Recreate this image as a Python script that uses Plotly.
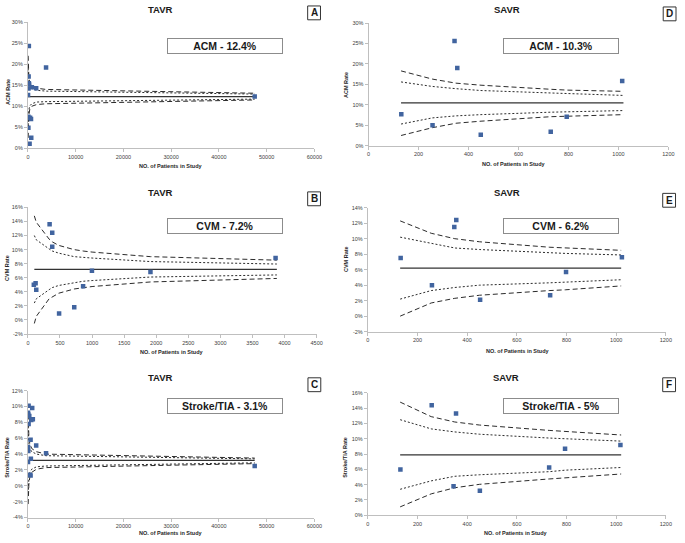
import plotly.graph_objects as go

# ---------------- DATA ----------------
# Panel A: TAVR all-cause mortality
A_N = [200, 3800, 150, 200, 250, 120, 830, 1730, 30, 100, 450, 650, 100, 700, 350, 47500]
A_RATE = [24.3, 19.2, 17.1, 15.5, 15.2, 14.2, 14.5, 14.3, 12.7, 7.5, 7.3, 7.0, 4.9, 2.5, 1.1, 12.3]
A_CURVE_N = [50, 100, 200, 400, 800, 1800, 3800, 47500]
A_UP3 = [22.0, 19.0, 16.8, 15.5, 14.8, 14.3, 14.0, 13.1]
A_UP2 = [19.0, 17.0, 15.5, 14.7, 14.2, 13.8, 13.6, 12.9]
A_LO2 = [5.5, 7.5, 9.2, 10.1, 10.6, 11.0, 11.1, 11.7]
A_LO3 = [2.5, 5.5, 8.0, 9.3, 10.0, 10.4, 10.6, 11.5]
A_CENTER = 12.3
A_LINE_N = [0, 47500]

# Panel B: TAVR cardiovascular mortality
B_N = [92, 120, 130, 338, 379, 379, 486, 722, 860, 998, 1910, 3860]
B_RATE = [5.0, 5.2, 4.3, 13.6, 12.4, 10.4, 0.9, 1.8, 4.8, 7.0, 6.8, 8.8]
B_CURVE_N = [100, 130, 330, 380, 480, 720, 860, 1000, 1910, 3880]
B_UP3 = [14.8, 13.9, 11.5, 11.1, 10.6, 10.0, 9.8, 9.65, 9.0, 8.5]
B_UP2 = [12.0, 11.4, 10.1, 9.8, 9.5, 9.0, 8.9, 8.8, 8.3, 7.95]
B_LO2 = [2.4, 3.0, 4.3, 4.6, 4.9, 5.3, 5.5, 5.6, 6.1, 6.4]
B_LO3 = [-0.5, 0.5, 3.0, 3.3, 3.8, 4.4, 4.6, 4.75, 5.4, 5.9]
B_CENTER = 7.2
B_LINE_N = [100, 3880]

# Panel C: TAVR stroke/TIA
C_N = [144, 900, 30, 80, 290, 1030, 700, 144, 560, 1730, 30, 80, 3800, 620, 20, 560, 400, 47500]
C_RATE = [10.1, 9.8, 9.2, 9.0, 8.8, 8.4, 8.3, 7.8, 5.8, 5.1, 4.9, 4.4, 4.1, 3.4, 3.0, 1.3, 1.4, 2.5]
C_CURVE_N = [50, 100, 200, 400, 800, 1800, 3800, 47500]
C_UP3 = [9.0, 7.8, 6.3, 5.3, 4.7, 4.3, 4.0, 3.5]
C_UP2 = [7.5, 6.5, 5.4, 4.7, 4.3, 4.0, 3.8, 3.4]
C_LO2 = [-1.0, 0.0, 1.0, 1.7, 2.1, 2.4, 2.5, 2.9]
C_LO3 = [-2.3, -1.4, 0.2, 1.1, 1.7, 2.1, 2.3, 2.8]
C_CENTER = 3.2
C_LINE_N = [0, 47500]

# SAVR panels share study sizes for the curves
S_CURVE_N = [130, 255, 350, 450, 730, 795, 1020]
S_LINE_N = [130, 1020]

# Panel D: SAVR all-cause mortality
D_N = [131, 256, 344, 355, 449, 729, 793, 1015]
D_RATE = [7.7, 5.0, 25.6, 19.0, 2.7, 3.4, 7.1, 15.8]
D_UP3 = [18.3, 16.3, 15.3, 14.8, 13.8, 13.6, 13.3]
D_UP2 = [15.6, 14.5, 13.95, 13.5, 12.9, 12.8, 12.3]
D_LO2 = [5.3, 6.8, 7.3, 7.6, 8.2, 8.3, 8.6]
D_LO3 = [2.5, 4.4, 5.5, 6.0, 7.1, 7.2, 7.6]
D_CENTER = 10.5

# Panel E: SAVR cardiovascular mortality
E_N = [132, 258, 348, 356, 452, 734, 798, 1023]
E_RATE = [7.5, 4.0, 11.5, 12.4, 2.1, 2.7, 5.7, 7.6]
E_UP3 = [12.3, 10.7, 10.0, 9.6, 8.9, 8.8, 8.5]
E_UP2 = [10.2, 9.4, 8.8, 8.6, 8.2, 8.1, 7.9]
E_LO2 = [2.2, 3.3, 3.7, 4.0, 4.3, 4.4, 4.7]
E_LO3 = [0.0, 1.7, 2.3, 2.7, 3.3, 3.4, 3.9]
E_CENTER = 6.2

# Panel F: SAVR stroke/TIA
F_N = [131, 257, 345, 355, 451, 730, 794, 1017]
F_RATE = [6.0, 14.4, 3.8, 13.3, 3.2, 6.25, 8.7, 9.2]
F_UP3 = [14.8, 12.9, 12.2, 11.8, 11.1, 10.95, 10.5]
F_UP2 = [12.5, 11.3, 10.9, 10.6, 10.1, 10.0, 9.7]
F_LO2 = [3.4, 4.5, 5.1, 5.3, 5.7, 5.9, 6.25]
F_LO3 = [1.1, 2.8, 3.6, 4.05, 4.75, 4.9, 5.4]
F_CENTER = 7.9

TITLES = ["TAVR", "TAVR", "TAVR", "SAVR", "SAVR", "SAVR"]
LETTERS = ["A", "B", "C", "D", "E", "F"]
BOX_TEXT = ["ACM - 12.4%", "CVM - 7.2%", "Stroke/TIA - 3.1%",
            "ACM - 10.3%", "CVM - 6.2%", "Stroke/TIA - 5%"]
Y_TITLES = ["ACM Rate", "CVM Rate", "Stroke/TIA Rate",
            "ACM Rate", "CVM Rate", "Stroke/TIA Rate"]
X_TITLE = "NO. of Patients in Study"

Y_RANGES = [(0, 30, 5), (-2, 16, 2), (-4, 12, 2), (0, 30, 5), (-2, 14, 2), (0, 16, 2)]
X_RANGES = [(0, 60000, 10000), (0, 4500, 500), (0, 60000, 10000),
            (0, 1200, 200), (0, 1200, 200), (0, 1200, 200)]

# ---------------- LAYOUT (pixels) ----------------
W, H = 685, 543
# plot area boxes: (x0, x1, ytop, ybottom) in pixels
BOXES = [
    (26.3, 317.0, 19.3, 147.0),
    (26.3, 319.3, 206.7, 334.7),
    (26.3, 317.0, 392.0, 520.3),
    (372.0, 676.3, 20.3, 144.3),
    (371.3, 673.7, 207.0, 332.3),
    (371.3, 673.7, 394.3, 518.0),
]
TITLE_POS = [(161, 7), (161, 192), (161, 379), (512, 7), (512, 192), (511, 379)]
XT_POS = [(171, 165), (173, 352.5), (171, 536), (520, 163), (524, 351.5), (522, 535.5)]
YT_POS = [(6, 90), (5, 268), (5, 459), (349, 83), (349, 259), (348, 459)]
TB_POS = [(226.3, 43), (226.7, 225.5), (226.3, 407), (567, 43.3), (567.2, 225.5), (567, 407)]
LB_POS = [(316.7, 10), (316.7, 198), (317, 386), (677.5, 11), (677, 199.5), (677, 386)]

panels = [
    (A_N, A_RATE, A_CURVE_N, A_UP3, A_UP2, A_LO2, A_LO3, A_CENTER, A_LINE_N),
    (B_N, B_RATE, B_CURVE_N, B_UP3, B_UP2, B_LO2, B_LO3, B_CENTER, B_LINE_N),
    (C_N, C_RATE, C_CURVE_N, C_UP3, C_UP2, C_LO2, C_LO3, C_CENTER, C_LINE_N),
    (D_N, D_RATE, S_CURVE_N, D_UP3, D_UP2, D_LO2, D_LO3, D_CENTER, S_LINE_N),
    (E_N, E_RATE, S_CURVE_N, E_UP3, E_UP2, E_LO2, E_LO3, E_CENTER, S_LINE_N),
    (F_N, F_RATE, S_CURVE_N, F_UP3, F_UP2, F_LO2, F_LO3, F_CENTER, S_LINE_N),
]

FONT = "Liberation Sans, Arial, sans-serif"
LINE_COL = "#2b2b2b"
MARK_COL = "#41649f"
AXIS_COL = "#bfbfbf"

fig = go.Figure()
layout = dict(
    width=W, height=H, margin=dict(l=0, r=0, t=0, b=0),
    paper_bgcolor="white", plot_bgcolor="white", showlegend=False,
    font=dict(family=FONT, color="#404040"),
)
annotations = []
shapes = []


def px(x, y):
    return x / W, 1 - y / H


for i, (pn, pr, cn, up3, up2, lo2, lo3, center, line_n) in enumerate(panels):
    k = "" if i == 0 else str(i + 1)
    xa, ya = "x" + k, "y" + k
    x0, x1, yt, yb = BOXES[i]
    xr, yr = X_RANGES[i], Y_RANGES[i]

    dash3 = "5px,3px"
    dash2 = "2px,2px"
    for vals, dash in ((up3, dash3), (up2, dash2), (lo2, dash2), (lo3, dash3)):
        fig.add_trace(go.Scatter(x=cn, y=vals, mode="lines", xaxis=xa, yaxis=ya,
                                 line=dict(color=LINE_COL, width=1, dash=dash),
                                 hoverinfo="skip"))
    fig.add_trace(go.Scatter(x=line_n, y=[center] * len(line_n), mode="lines",
                             xaxis=xa, yaxis=ya,
                             line=dict(color="#333333", width=1.3)))
    fig.add_trace(go.Scatter(x=pn, y=pr, mode="markers", xaxis=xa, yaxis=ya,
                             marker=dict(symbol="square", size=4.5, color=MARK_COL,
                                         line=dict(width=0))))

    ytv = list(range(yr[0], yr[1] + 1, yr[2]))
    layout["xaxis" + k] = dict(
        domain=[x0 / W, x1 / W], anchor=ya, range=[xr[0], xr[1]],
        tickvals=list(range(xr[0], xr[1] + 1, xr[2])), tickformat="d",
        showline=True, linecolor=AXIS_COL, linewidth=1, ticks="outside",
        ticklen=3, tickcolor=AXIS_COL, showgrid=False, zeroline=False,
        tickfont=dict(size=5.5, color="#404040", family=FONT), fixedrange=True,
    )
    layout["yaxis" + k] = dict(
        domain=[1 - yb / H, 1 - yt / H], anchor=xa, range=[yr[0], yr[1]],
        tickvals=ytv, ticktext=[f"{v}%" for v in ytv],
        showline=True, linecolor=AXIS_COL, linewidth=1, ticks="outside",
        ticklen=3, tickcolor=AXIS_COL, showgrid=False, zeroline=False,
        tickfont=dict(size=5.5, color="#404040", family=FONT), fixedrange=True,
    )

    tx, ty = px(*TITLE_POS[i])
    annotations.append(dict(x=tx, y=ty, xref="paper", yref="paper", text="<b>" + TITLES[i] + "</b>",
                            showarrow=False, xanchor="center", yanchor="middle",
                            font=dict(size=9.5, color="#1a1a1a", family=FONT)))
    tx, ty = px(*XT_POS[i])
    annotations.append(dict(x=tx, y=ty, xref="paper", yref="paper", text="<b>" + X_TITLE + "</b>",
                            showarrow=False, xanchor="center", yanchor="middle",
                            font=dict(size=5.5, color="#262626", family=FONT)))
    tx, ty = px(*YT_POS[i])
    annotations.append(dict(x=tx, y=ty, xref="paper", yref="paper", text="<b>" + Y_TITLES[i] + "</b>",
                            showarrow=False, xanchor="center", yanchor="middle", textangle=-90,
                            font=dict(size=5.5, color="#262626", family=FONT)))
    tx, ty = px(*TB_POS[i])
    annotations.append(dict(x=tx, y=ty, xref="paper", yref="paper", text="<b>" + BOX_TEXT[i] + "</b>",
                            showarrow=False, xanchor="center", yanchor="middle",
                            width=112, height=12, borderpad=1, borderwidth=1,
                            bordercolor="#8c8c8c", bgcolor="white",
                            font=dict(size=10.5, color="#1a1a1a", family=FONT)))
    cx, cy = LB_POS[i]
    shapes.append(dict(type="rect", xref="paper", yref="paper",
                       x0=(cx - 6.5) / W, x1=(cx + 6.5) / W,
                       y0=1 - (cy + 7) / H, y1=1 - (cy - 7) / H,
                       line=dict(color="#333333", width=1), fillcolor="white"))
    tx, ty = px(cx, cy)
    annotations.append(dict(x=tx, y=ty, xref="paper", yref="paper", text="<b>" + LETTERS[i] + "</b>",
                            showarrow=False, xanchor="center", yanchor="middle",
                            font=dict(size=10, color="#1a1a1a", family=FONT)))

layout["annotations"] = annotations
layout["shapes"] = shapes
fig.update_layout(**layout)
fig.write_html(
    "out.html",
    config={"displayModeBar": False, "staticPlot": True},
    post_script="document.body.style.margin='0';document.body.style.overflow='hidden';",
)
